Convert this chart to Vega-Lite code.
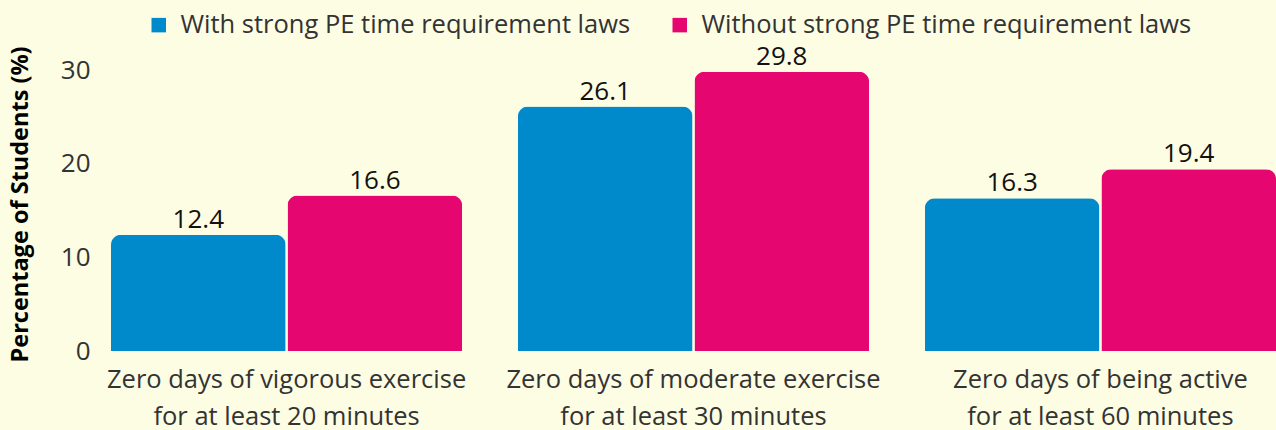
{
  "$schema": "https://vega.github.io/schema/vega-lite/v6.json",
  "width": 1165,
  "height": 281,
  "autosize": "none",
  "padding": {"left": 111, "top": 70, "right": 0, "bottom": 79},
  "background": "#fdfde4",
  "config": {"view": {"stroke": null}, "font": "Open Sans"},
  "data": {
    "values": [
      {"measure": "Zero days of vigorous exercise for at least 20 minutes", "group": "With strong PE time requirement laws", "value": 12.4},
      {"measure": "Zero days of vigorous exercise for at least 20 minutes", "group": "Without strong PE time requirement laws", "value": 16.6},
      {"measure": "Zero days of moderate exercise for at least 30 minutes", "group": "With strong PE time requirement laws", "value": 26.1},
      {"measure": "Zero days of moderate exercise for at least 30 minutes", "group": "Without strong PE time requirement laws", "value": 29.8},
      {"measure": "Zero days of being active for at least 60 minutes", "group": "With strong PE time requirement laws", "value": 16.3},
      {"measure": "Zero days of being active for at least 60 minutes", "group": "Without strong PE time requirement laws", "value": 19.4}
    ]
  },
  "encoding": {
    "x": {
      "field": "measure", "type": "nominal", "sort": null,
      "scale": {"paddingInner": 0.137, "paddingOuter": 0},
      "axis": {
        "title": null, "domain": false, "ticks": false, "labelAngle": 0,
        "labelFontSize": 25.5, "labelColor": "#333333", "labelPadding": 16,
        "labelLineHeight": 37, "labelLimit": 0,
        "labelExpr": "[split(datum.value, ' for ')[0], 'for ' + split(datum.value, ' for ')[1]]"
      }
    },
    "xOffset": {"field": "group", "sort": null, "scale": {"paddingInner": 0.011, "paddingOuter": 0}},
    "y": {
      "field": "value", "type": "quantitative",
      "scale": {"domain": [0, 30]},
      "axis": {
        "title": "Percentage of Students (%)", "titleFontSize": 23.5, "titleFontWeight": "bold",
        "titleColor": "#000000", "titlePadding": 28, "titleY": 134,
        "domain": false, "ticks": false, "grid": false, "values": [0, 10, 20, 30],
        "labelFontSize": 26, "labelColor": "#333333", "labelPadding": 21
      }
    }
  },
  "layer": [
    {
      "mark": {"type": "bar", "cornerRadiusTopLeft": 10, "cornerRadiusTopRight": 10},
      "encoding": {
        "color": {
          "field": "group", "type": "nominal", "sort": null,
          "scale": {"range": ["#0089cb", "#e5066f"]},
          "legend": {
            "title": null, "orient": "none", "direction": "horizontal",
            "legendX": 35, "legendY": -58,
            "symbolType": "square", "symbolSize": 210, "symbolStrokeWidth": 0,
            "labelFontSize": 25.5, "labelColor": "#333333", "labelOffset": 9,
            "columnPadding": 36, "labelLimit": 0
          }
        }
      }
    },
    {
      "mark": {"type": "text", "baseline": "bottom", "dy": -2, "fontSize": 26, "color": "#111111"},
      "encoding": {"text": {"field": "value", "type": "quantitative", "format": ".1f"}}
    }
  ]
}
